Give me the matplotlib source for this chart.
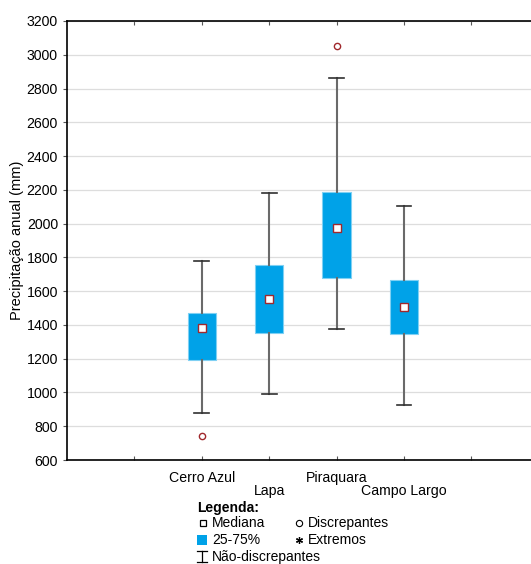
import matplotlib.pyplot as plt
from matplotlib.lines import Line2D
from matplotlib.patches import Rectangle

plt.rcParams['font.family'] = ['Liberation Sans', 'DejaVu Sans']

# dados
estacoes = ['Cerro Azul', 'Lapa', 'Piraquara', 'Campo Largo']
posicoes = [2, 3, 4, 5]
mediana = [1380, 1555, 1975, 1505]
q1 = [1190, 1350, 1680, 1345]
q3 = [1470, 1755, 2185, 1665]
whis_min = [880, 990, 1375, 925]
whis_max = [1780, 2180, 2860, 2105]
discrepantes = [[740], [], [3050], []]

azul = '#00A2E8'
vermelho = '#A0282C'
cinza = '#6a6a6a'

stats = []
for i in range(len(estacoes)):
    stats.append(dict(med=mediana[i], q1=q1[i], q3=q3[i], whislo=whis_min[i],
                      whishi=whis_max[i], fliers=discrepantes[i], label=estacoes[i]))

fig = plt.figure(figsize=(5.31, 5.64), dpi=100)
ax = fig.add_axes([67/531, 104/564, 1 - 67/531, 439/564])

ax.bxp(stats, positions=posicoes, widths=0.42, patch_artist=True, showcaps=True,
       boxprops=dict(facecolor=azul, edgecolor='#7fd0f3', linewidth=0.8),
       whiskerprops=dict(color=cinza, linewidth=1.5),
       capprops=dict(color='#303030', linewidth=1.2),
       capwidths=0.22,
       medianprops=dict(linewidth=0),
       flierprops=dict(marker='o', markersize=4.5, markerfacecolor='white',
                       markeredgecolor=vermelho, markeredgewidth=1.0),
       zorder=3)
ax.plot(posicoes, mediana, 's', markersize=5.5, markerfacecolor='white',
        markeredgecolor=vermelho, markeredgewidth=1.0, linestyle='none', zorder=4)

ax.set_xlim(0, 464/67.4)
ax.set_ylim(600, 3200)
ax.set_yticks(range(600, 3201, 200))

# rotulos alternados: 1a e 3a estacao em cima, 2a e 4a mais abaixo
ax.xaxis.remove_overlapping_locs = False
ax.set_xticks([1, 2, 3, 4, 5, 6])
ax.set_xticklabels(['', estacoes[0], '', estacoes[2], '', ''])
ax.set_xticks(posicoes[1::2], minor=True)
ax.set_xticklabels(estacoes[1::2], minor=True)
ax.tick_params(axis='x', which='major', direction='in', length=3, color='#555555',
               labelsize=10.2, pad=8, top=True)
ax.tick_params(axis='x', which='minor', length=0, labelsize=10.2, pad=17)
ax.tick_params(axis='y', direction='out', length=3, color='#555555', labelsize=10.2)
ax.grid(axis='y', color='#dddddd', linewidth=0.9, zorder=0)
ax.set_axisbelow(True)
for s in ['top', 'bottom', 'left']:
    ax.spines[s].set_linewidth(1.2)
ax.spines['right'].set_visible(False)
ax.set_ylabel('Precipitação anual (mm)', fontsize=10.5)
ax.yaxis.set_label_coords(-0.093, 0.5)

# legenda manual
def fx(px):
    return px / 531
def fy(py):
    return 1 - py / 564

fs = 10
fig.text(fx(197), fy(508), 'Legenda:', fontsize=fs, fontweight='bold', va='center')
fig.add_artist(Line2D([fx(203)], [fy(523)], marker='s', markersize=4.5, markerfacecolor='white',
                      markeredgecolor='black', markeredgewidth=0.9, transform=fig.transFigure))
fig.text(fx(212), fy(523), 'Mediana', fontsize=fs, va='center')
fig.add_artist(Line2D([fx(299)], [fy(523)], marker='o', markersize=4.5, markerfacecolor='white',
                      markeredgecolor='black', markeredgewidth=0.8, transform=fig.transFigure))
fig.text(fx(308), fy(523), 'Discrepantes', fontsize=fs, va='center')
fig.add_artist(Rectangle((fx(197), fy(545)), 10/531, 10/564, facecolor=azul,
                         edgecolor='none', transform=fig.transFigure))
fig.text(fx(212), fy(540), '25-75%', fontsize=fs, va='center')
fig.add_artist(Line2D([fx(299)], [fy(540)], marker=(6, 2, 0), markersize=5, color='black',
                      markeredgewidth=0.9, transform=fig.transFigure))
fig.text(fx(308), fy(540), 'Extremos', fontsize=fs, va='center')
fig.add_artist(Line2D([fx(202), fx(202)], [fy(551), fy(562)], color='black', linewidth=0.9,
                      transform=fig.transFigure))
fig.add_artist(Line2D([fx(197), fx(207)], [fy(551), fy(551)], color='black', linewidth=0.9,
                      transform=fig.transFigure))
fig.add_artist(Line2D([fx(197), fx(207)], [fy(562), fy(562)], color='black', linewidth=0.9,
                      transform=fig.transFigure))
fig.text(fx(212), fy(557), 'Não-discrepantes', fontsize=fs, va='center')

fig.savefig('out.png', dpi=100)
